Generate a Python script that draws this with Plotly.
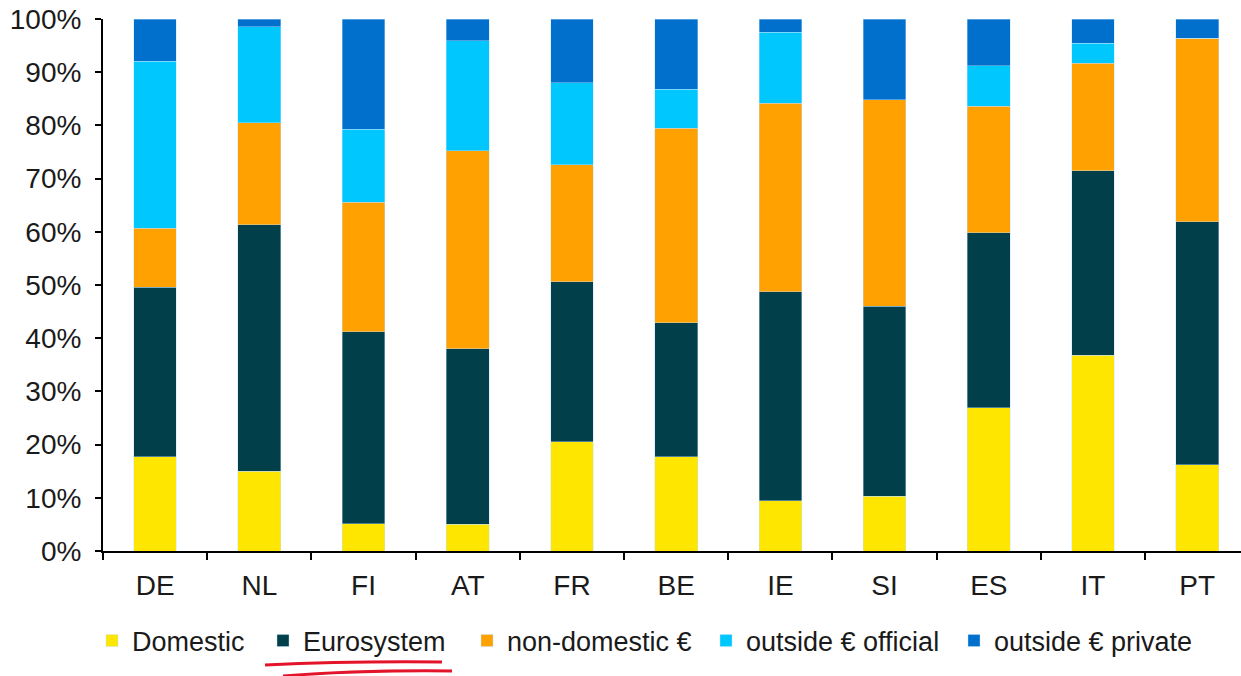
import plotly.graph_objects as go

countries = ["DE", "NL", "FI", "AT", "FR", "BE", "IE", "SI", "ES", "IT", "PT"]
domestic = [17.7, 15.0, 5.1, 5.0, 20.5, 17.7, 9.4, 10.3, 26.9, 36.8, 16.2]
eurosystem = [31.9, 46.3, 36.1, 33.0, 30.1, 25.2, 39.3, 35.7, 32.9, 34.7, 45.7]
non_domestic = [11.1, 19.2, 24.4, 37.2, 22.0, 36.6, 35.5, 38.8, 23.8, 20.2, 34.5]
outside_official = [31.4, 18.0, 13.7, 20.7, 15.4, 7.3, 13.3, 0.0, 7.6, 3.7, 0.0]
outside_private = [7.9, 1.5, 20.7, 4.1, 12.0, 13.2, 2.5, 15.2, 8.8, 4.6, 3.6]

series = [
    ("Domestic", domestic, "#FFE600"),
    ("Eurosystem", eurosystem, "#01404B"),
    ("non-domestic €", non_domestic, "#FFA100"),
    ("outside € official", outside_official, "#00C8FF"),
    ("outside € private", outside_private, "#0070CC"),
]

W, H = 1241, 676
L, R, T, B = 103, 0, 19, 125
PW, PH = W - L - R, H - T - B

def px(x):
    return (x - L) / PW

def py(y):
    return (H - B - y) / PH

# legend entry text start positions (pixels) — one legend per series
legend_text_x = [131, 302, 506, 745, 993]

font = "Liberation Sans, Arial, sans-serif"
fig = go.Figure()
legend_layout = {}
for i, (name, vals, col) in enumerate(series):
    lname = "legend" if i == 0 else f"legend{i + 1}"
    fig.add_trace(go.Bar(
        x=countries, y=vals, name=name, legend=lname,
        marker=dict(color=col, line=dict(color="rgba(190,225,255,0.7)", width=0.6)),
    ))
    legend_layout[lname] = dict(
        orientation="h", x=px(legend_text_x[i] - 39), xanchor="left",
        y=py(641), yanchor="middle", bgcolor="rgba(0,0,0,0)",
        font=dict(family=font, size=27, color="#1a1a1a"), itemwidth=30,
    )

fig.update_layout(
    width=W, height=H,
    margin=dict(l=L, r=R, t=T, b=B, pad=0),
    barmode="stack",
    bargap=0.59,
    plot_bgcolor="white",
    paper_bgcolor="white",
    font=dict(family=font, size=28, color="#1a1a1a"),
    showlegend=True,
    xaxis=dict(
        range=[-0.5, 10.42], showline=True, linecolor="black", linewidth=2,
        ticks="outside", ticklen=7, tickwidth=2, tickcolor="black",
        tickson="boundaries", showgrid=False, tickfont=dict(size=28),
        ticklabelstandoff=8,
    ),
    yaxis=dict(
        range=[0, 100], showline=True, linecolor="black", linewidth=2,
        ticks="outside", ticklen=6, tickwidth=2, tickcolor="black",
        dtick=10, ticksuffix="%", showgrid=False, zeroline=False,
        tickfont=dict(size=28), ticklabelstandoff=8,
    ),
    **legend_layout,
)

# hand-drawn red underline beneath "Eurosystem"
red = "#E3142A"
fig.add_shape(type="path", xref="paper", yref="paper",
              path=f"M{px(265)},{py(665)} Q{px(350)},{py(661)} {px(442)},{py(662)}",
              line=dict(color=red, width=3))
fig.add_shape(type="path", xref="paper", yref="paper",
              path=f"M{px(283)},{py(676)} Q{px(360)},{py(670)} {px(452)},{py(671)}",
              line=dict(color=red, width=3))

fig.write_html("out.html")
